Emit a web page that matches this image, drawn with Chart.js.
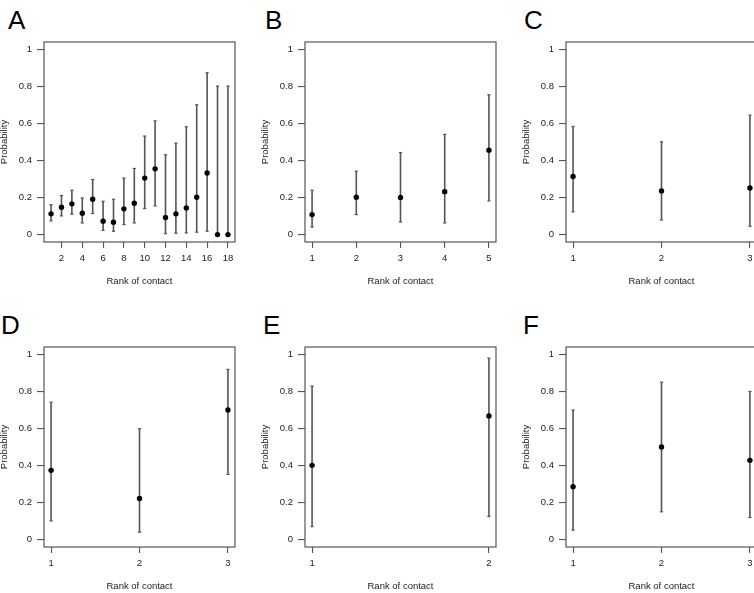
<!DOCTYPE html>
<html><head><meta charset="utf-8">
<script src="https://cdn.jsdelivr.net/npm/chart.js@4/dist/chart.umd.min.js"></script>
<style>
html,body{margin:0;padding:0;background:#fff}
body{width:754px;height:593px;overflow:hidden;position:relative}
.p{position:absolute;width:261px;height:300px}
.lab{position:absolute;font-family:"Liberation Sans",Arial,sans-serif;font-size:26px;line-height:26px;color:#000}
</style></head>
<body>
<div class="lab" style="left:8px;top:7px">A</div>
<div class="lab" style="left:265px;top:7px">B</div>
<div class="lab" style="left:524px;top:7px">C</div>
<div class="lab" style="left:1px;top:312px">D</div>
<div class="lab" style="left:263px;top:312px">E</div>
<div class="lab" style="left:523px;top:312px">F</div>
<canvas id="cA" class="p" style="left:0px;top:0px" width="261" height="300"></canvas>
<canvas id="cB" class="p" style="left:261px;top:0px" width="261" height="300"></canvas>
<canvas id="cC" class="p" style="left:522px;top:0px" width="261" height="300"></canvas>
<canvas id="cD" class="p" style="left:0px;top:305px" width="261" height="300"></canvas>
<canvas id="cE" class="p" style="left:261px;top:305px" width="261" height="300"></canvas>
<canvas id="cF" class="p" style="left:522px;top:305px" width="261" height="300"></canvas>
<script>
// ---- data ----
const yTicks = [0, 0.2, 0.4, 0.6, 0.8, 1];
const yTickLabels = ['0', '0.2', '0.4', '0.6', '0.8', '1'];

const rankA = [1,2,3,4,5,6,7,8,9,10,11,12,13,14,15,16,17,18];
const probA = [0.112,0.148,0.166,0.115,0.191,0.072,0.067,0.139,0.169,0.305,0.355,0.092,0.112,0.144,0.202,0.333,0,0];
const lowA  = [0.074,0.101,0.110,0.063,0.114,0.023,0.018,0.054,0.063,0.141,0.155,0.005,0.007,0.009,0.013,0.018,0,0];
const highA = [0.162,0.211,0.240,0.198,0.297,0.180,0.191,0.305,0.357,0.532,0.614,0.431,0.494,0.582,0.701,0.874,0.802,0.802];
const xTicksA = [2,4,6,8,10,12,14,16,18];

const rankB = [1,2,3,4,5];
const probB = [0.108,0.202,0.200,0.232,0.456];
const lowB  = [0.041,0.108,0.068,0.063,0.182];
const highB = [0.240,0.342,0.443,0.541,0.755];
const xTicksB = [1,2,3,4,5];

const rankC = [1,2,3];
const probC = [0.314,0.236,0.252];
const lowC  = [0.123,0.079,0.045];
const highC = [0.584,0.501,0.645];
const xTicksC = [1,2,3];

const rankD = [1,2,3];
const probD = [0.374,0.222,0.700];
const lowD  = [0.101,0.040,0.352];
const highD = [0.742,0.599,0.919];
const xTicksD = [1,2,3];

const rankE = [1,2];
const probE = [0.401,0.668];
const lowE  = [0.070,0.125];
const highE = [0.829,0.980];
const xTicksE = [1,2];

const rankF = [1,2,3];
const probF = [0.285,0.500,0.428];
const lowF  = [0.051,0.150,0.119];
const highF = [0.700,0.850,0.800];
const xTicksF = [1,2,3];

// ---- drawing ----
const FONT = '"Liberation Sans", Arial, Helvetica, sans-serif';
const boxPlugin = {
  id: 'box',
  afterDatasetsDraw(chart) {
    const a = chart.chartArea, ctx = chart.ctx;
    ctx.save();
    ctx.strokeStyle = '#555';
    ctx.lineWidth = 1.2;
    ctx.strokeRect(a.left, a.top, a.right - a.left, a.bottom - a.top);
    ctx.restore();
  }
};

function makePanel(id, ranks, prob, low, high, xTicks) {
  const r0 = ranks[0], r1 = ranks[ranks.length - 1];
  const pad = 0.04 * (r1 - r0);
  const whisk = [];
  ranks.forEach((r, i) => {
    whisk.push({x: r, y: low[i]}, {x: r, y: high[i]}, {x: r, y: null});
  });
  new Chart(document.getElementById(id), {
    type: 'scatter',
    data: {
      datasets: [
        {
          data: ranks.map((r, i) => ({x: r, y: prob[i]})),
          pointRadius: 2.7, pointBackgroundColor: '#000', pointBorderWidth: 0,
          showLine: false
        },
        {
          data: whisk, showLine: true, spanGaps: false,
          borderColor: '#555', borderWidth: 1.6,
          pointStyle: 'line', pointRadius: 1.6, pointBorderColor: '#555', pointBorderWidth: 1.2
        }
      ]
    },
    options: {
      responsive: false, animation: false,
      clip: false,
      layout: {padding: {left: 0, right: 26, top: 42, bottom: 0}},
      plugins: {legend: {display: false}, tooltip: {enabled: false}},
      events: [],
      scales: {
        x: {
          type: 'linear', min: r0 - pad, max: r1 + pad,
          afterBuildTicks: s => { s.ticks = xTicks.map(v => ({value: v})); },
          afterFit: s => { s.height = 58; },
          ticks: {font: {family: FONT, size: 9.5}, color: '#222', padding: 5, maxRotation: 0, autoSkip: false,
                  callback: (v, i) => String(xTicks[i])},
          grid: {drawOnChartArea: false, tickLength: 6, color: '#555', lineWidth: 1.1},
          border: {display: false},
          title: {display: true, text: 'Rank of contact', color: '#222',
                  font: {family: FONT, size: 9.5, lineHeight: 1}, padding: {top: 0, bottom: 13.5}}
        },
        y: {
          type: 'linear', min: -0.04, max: 1.04,
          afterBuildTicks: s => { s.ticks = yTicks.map(v => ({value: v})); },
          afterFit: s => { s.width = 44; },
          ticks: {font: {family: FONT, size: 9.5}, color: '#222', padding: 5,
                  callback: (v, i) => yTickLabels[i]},
          grid: {drawOnChartArea: false, tickLength: 7, color: '#555', lineWidth: 1.1},
          border: {display: false},
          title: {display: true, text: 'Probability', color: '#222',
                  font: {family: FONT, size: 9.5, lineHeight: 1}, padding: {top: 0, bottom: 0}}
        }
      }
    },
    plugins: [boxPlugin]
  });
}

makePanel('cA', rankA, probA, lowA, highA, xTicksA);
makePanel('cB', rankB, probB, lowB, highB, xTicksB);
makePanel('cC', rankC, probC, lowC, highC, xTicksC);
makePanel('cD', rankD, probD, lowD, highD, xTicksD);
makePanel('cE', rankE, probE, lowE, highE, xTicksE);
makePanel('cF', rankF, probF, lowF, highF, xTicksF);
</script>
</body></html>
